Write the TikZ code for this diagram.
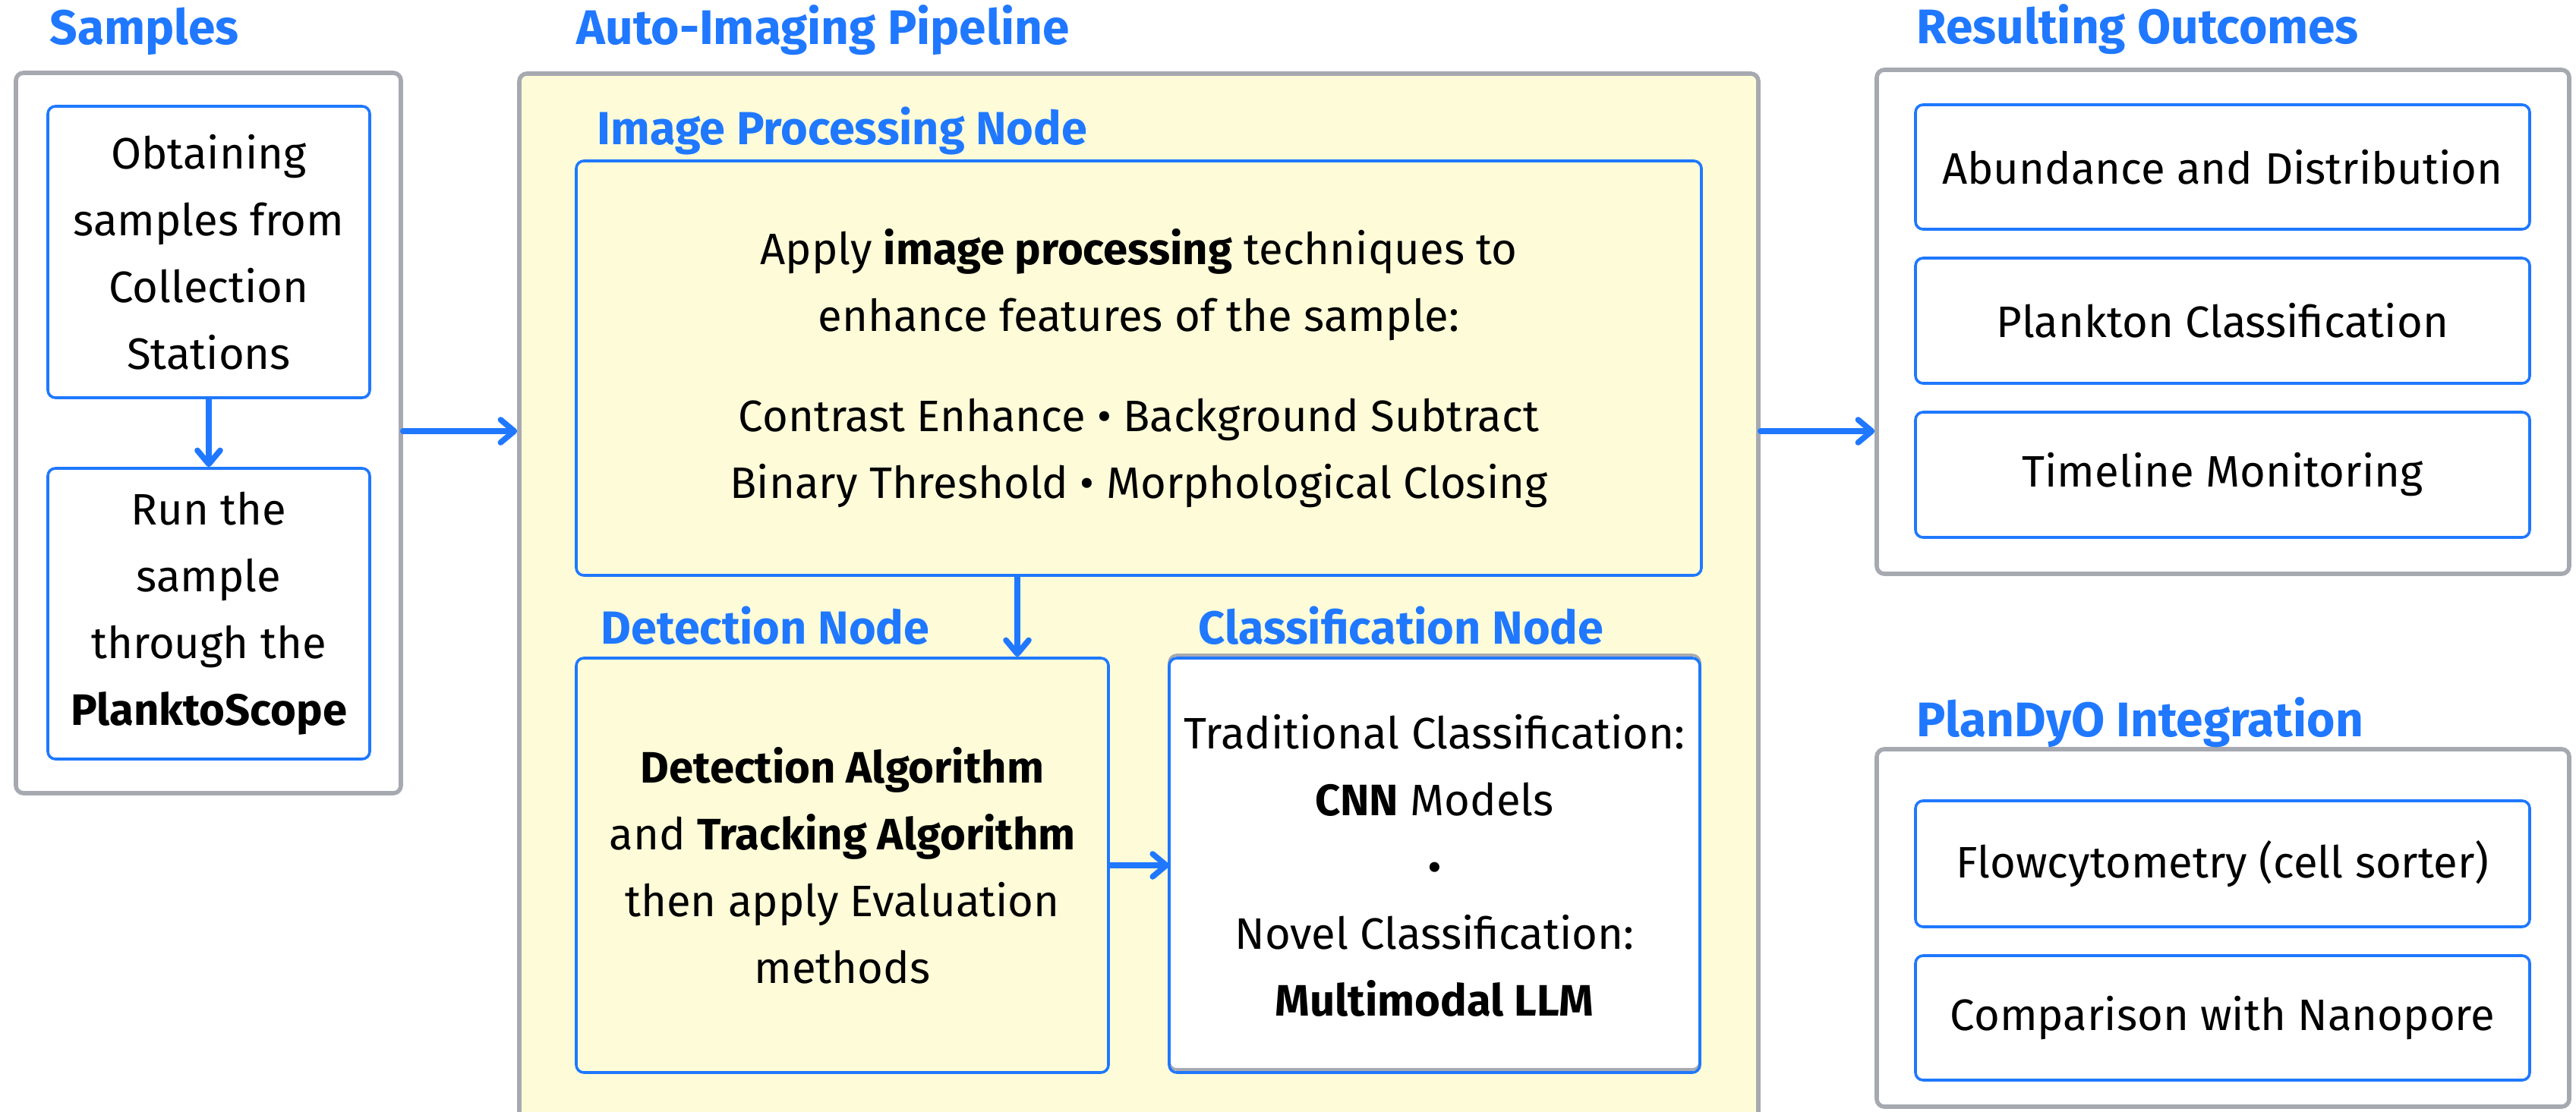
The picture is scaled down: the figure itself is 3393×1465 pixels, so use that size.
\documentclass[tikz,border=0pt]{standalone}
\usepackage{fontspec}
\setmainfont{Fira Sans}
\usetikzlibrary{arrows.meta}
\definecolor{flowblue}{RGB}{31,120,255}
\definecolor{framegray}{RGB}{167,169,177}
\definecolor{pipeyellow}{RGB}{254,252,216}
\newcommand\bodytext{\fontsize{14.5}{22}\selectfont}
\newcommand\headtext{\fontsize{16}{19}\selectfont\bfseries}
\newcommand\subheadtext{\fontsize{15.3}{18}\selectfont\bfseries}

\begin{document}
\begin{tikzpicture}[x=0.25pt,y=-0.25pt,
  boxsize/.style 2 args={minimum width=#1*0.25pt, minimum height=#2*0.25pt},
  group/.style={draw=framegray, line width=1.4pt, rounded corners=2.5pt, fill=white, inner sep=0pt},
  card/.style={draw=flowblue, line width=0.9pt, rounded corners=2.5pt, align=center,
    inner sep=0pt, font=\bodytext},
  heading/.style={anchor=base west, inner sep=0pt, text=flowblue, font=\headtext},
  subheading/.style={heading, font=\subheadtext},
  flow/.style={draw=flowblue, line width=1.9pt, line cap=round,
    -{Straight Barb[length=4.5pt,width=7.5pt,round]}}]

\clip (0,0) rectangle (3393,1465);
\fill[white] (0,0) rectangle (3393,1465);

% column frames
\node[group, boxsize={507}{949}] (samples) at (274.5,570.5) {};
\node[group, fill=pipeyellow, boxsize={1632}{1406}] (pipe) at (1500,800) {};
\node[group, boxsize={912}{664}] (outc) at (2928,424) {};
\node[group, boxsize={912}{471}] (plan) at (2928,1222.5) {};

% headings
\node[heading] (hsamples) at (65,59) {Samples};
\node[heading] (hpipe) at (759,59) {Auto-Imaging Pipeline};
\node[subheading] (hip) at (786,191) {Image Processing Node};
\node[subheading] (hdet) at (791,848) {Detection Node};
\node[subheading] (hcls) at (1578,848) {Classification Node};
\node[heading] (houtc) at (2524,58) {Resulting Outcomes};
\node[heading] (hplan) at (2524,970) {PlanDyO Integration};

% sample steps
\node[card, boxsize={424}{384}] (obtain) at (275,332)
  {Obtaining\\samples from\\Collection\\Stations};
\node[card, boxsize={424}{383}] (run) at (275,808.5)
  {Run the\\sample\\through the\\\textbf{PlanktoScope}};

% pipeline nodes
\node[card, boxsize={1482}{546}] (ip) at (1500,485)
  {Apply \textbf{image processing} techniques to\\
   enhance features of the sample:\\[11pt]
   Contrast Enhance \textbullet{} Background Subtract\\
   Binary Threshold \textbullet{} Morphological Closing};
\node[card, boxsize={701}{546}] (det) at (1109.5,1140)
  {\textbf{Detection Algorithm}\\
   and \textbf{Tracking Algorithm}\\
   then apply Evaluation\\
   methods};
\node[card, draw=none, fill=white, outer sep=0pt, boxsize={699}{546}] (cls) at (1889.5,1140)
  {Traditional Classification:\\
   \textbf{CNN} Models\\
   \textbullet\\
   Novel Classification:\\
   \textbf{Multimodal LLM}};
\draw[framegray, line width=0.9pt, rounded corners=2.5pt]
  ([yshift=1pt]cls.south west) rectangle ([yshift=1pt]cls.north east);
\draw[flowblue, line width=0.9pt, rounded corners=2.5pt]
  (cls.south west) rectangle (cls.north east);

% outcomes
\node[card, boxsize={809}{164}] (abund) at (2927.5,220) {Abundance and Distribution};
\node[card, boxsize={809}{165}] (pclass) at (2927.5,422.5) {Plankton Classification};
\node[card, boxsize={809}{165}] (timeline) at (2927.5,625.5) {Timeline Monitoring};

% integration
\node[card, boxsize={809}{166}] (flowcyt) at (2927.5,1138) {Flowcytometry (cell sorter)};
\node[card, boxsize={809}{164}] (nanopore) at (2927.5,1341) {Comparison with Nanopore};

% connectors
\coordinate (mainrow) at (0,568);
\coordinate (dropx) at (1340,0);
\draw[flow] (obtain) -- (run.north);
\draw[flow] (samples.east |- mainrow) -- (pipe.west |- mainrow);
\draw[flow] (pipe.east |- mainrow) -- (outc.west |- mainrow);
\draw[flow] (ip.south -| dropx) -- (det.north -| dropx);
\draw[flow] (det.east) -- (cls.west);
\end{tikzpicture}
\end{document}
